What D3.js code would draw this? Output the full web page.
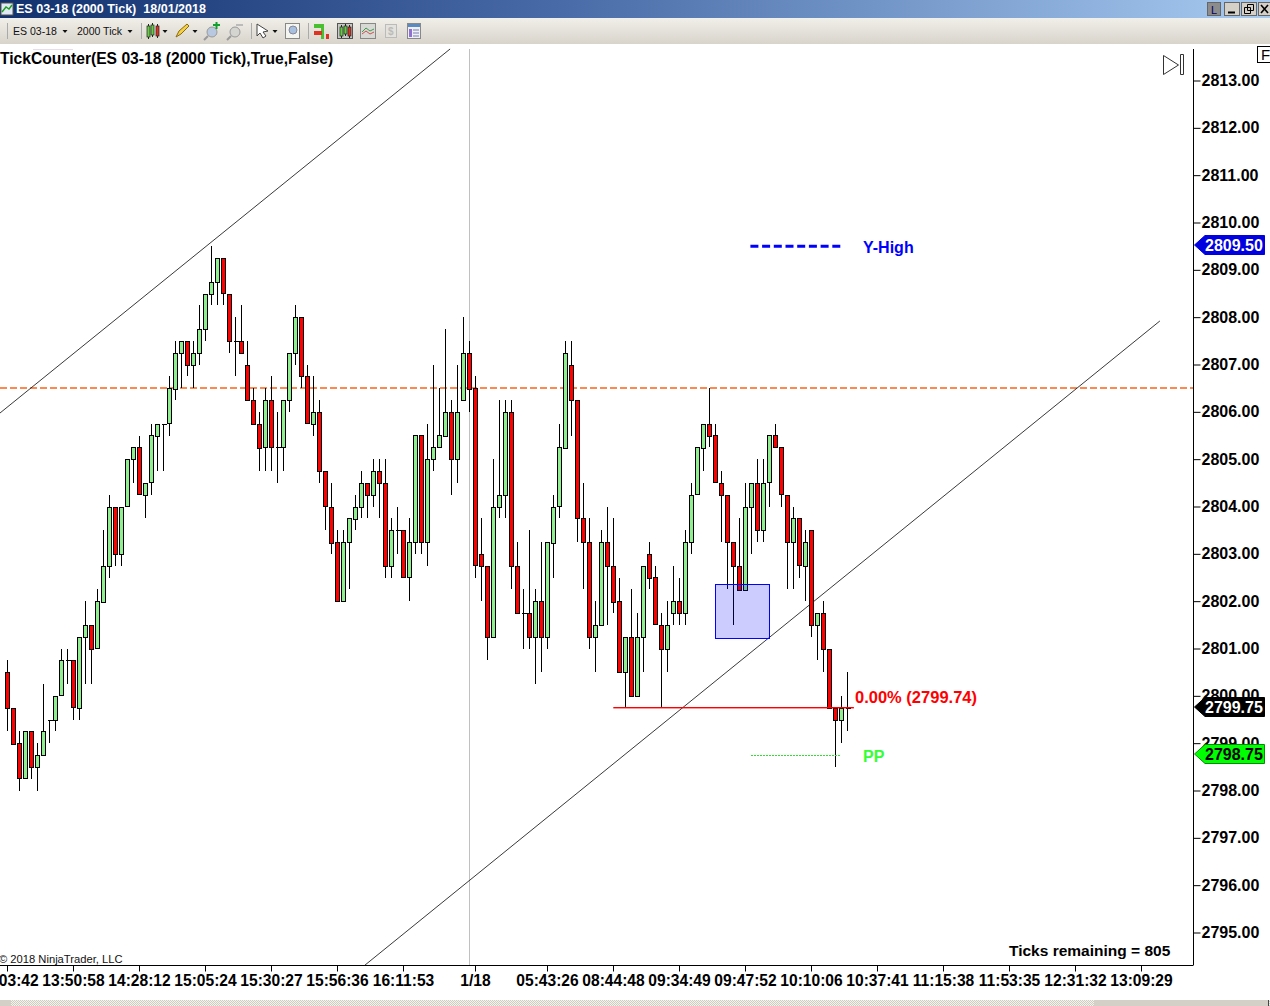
<!DOCTYPE html>
<html>
<head>
<meta charset="utf-8">
<script src="https://cdn.jsdelivr.net/npm/d3@7/dist/d3.min.js"></script>
<style>
html,body{margin:0;padding:0;background:#fff;overflow:hidden}
svg{display:block}
text{font-family:"Liberation Sans",Arial,sans-serif}
</style>
</head>
<body>
<svg id="c" width="1270" height="1006"></svg>
<script>
const opens=[2800.5,2799.75,2799,2798.25,2799.25,2798.5,2798.75,2799.5,2799.5,2800,
2800.75,2800.75,2799.75,2801.25,2801.5,2801,2802,2802.75,2804,2803,
2804,2805,2805.25,2804.25,2804.5,2805.5,2805.75,2805.75,2806.5,2807.25,
2807.5,2807,2807.25,2807.75,2808.5,2808.75,2809.25,2808.5,2807.5,2807.5,
2807,2806.25,2805.75,2805.25,2806.25,2805.25,2805.25,2806.25,2807.25,2808,
2806.75,2805.75,2806,2804.75,2804,2803.25,2802,2803.25,2803.75,2804,
2804.5,2804.25,2804.75,2804.5,2802.75,2803.5,2803.5,2802.5,2803.25,2805.5,
2803.25,2805,2805.25,2805.5,2806,2805,2806.25,2807.25,2806.5,2803,
2802.75,2801.25,2804,2804.25,2806,2802.75,2801.75,2801.75,2801.25,2802,
2801.25,2803.25,2804,2805.25,2807,2806.25,2803.75,2803.25,2801.25,2801.5,
2803.25,2802.75,2802,2800.5,2801.25,2800,2801.25,2803,2802.5,2801.5,
2801,2801.75,2802,2801.75,2803.25,2804.25,2805.25,2805.75,2805.5,2804.5,
2804.25,2803.25,2802.75,2802.25,2804,2804.5,2803.5,2804.5,2805.5,2805.25,
2804.25,2803.25,2803.75,2802.75,2803.5,2801.5,2801.75,2801,2799.75,2799.5,2799.75];
const closes=[2799.75,2799,2798.25,2799.25,2798.5,2798.75,2799.25,2799.5,2800,2800.75,
2800.75,2799.75,2801.25,2801.5,2801,2802,2802.75,2804,2803,2804,
2805,2805.25,2804.25,2804.5,2805.5,2805.75,2805.75,2806.5,2807.25,2807.5,
2807,2807.25,2807.75,2808.5,2808.75,2809.25,2808.5,2807.5,2807.5,2807.25,
2806.25,2805.75,2805.25,2806.25,2805.25,2805.25,2806.25,2807.25,2808,2806.75,
2805.75,2806,2804.75,2804,2803.25,2802,2803.25,2803.75,2804,2804.5,
2804.25,2804.75,2804.5,2802.75,2803.5,2803.5,2802.5,2803.25,2805.5,2803.25,
2805,2805.25,2805.5,2806,2805,2806,2807.25,2806.5,2802.75,2802.75,
2801.25,2804,2804.25,2806,2802.75,2801.75,2801.75,2801.25,2802,2801.25,
2803.25,2804,2805.25,2807.25,2806.25,2803.75,2803.25,2801.25,2801.5,2803.25,
2802.75,2802,2800.5,2801.25,2800,2801.25,2802.75,2802.5,2801.5,2801,
2801.5,2802,2801.75,2803.25,2804.25,2805.25,2805.75,2805.5,2804.5,2804.25,
2803.25,2802.75,2802.25,2804,2804.5,2803.5,2804.5,2805.5,2805.25,2804.25,
2803.25,2803.75,2802.75,2803.25,2801.5,2801.75,2801,2799.75,2799.5,2799.75,2799.75];
const highs=[2800.75,2799.75,2799.25,2799.25,2799.25,2799,2800.25,2799.5,2800,2801,
2801,2800.75,2801.25,2802,2801.5,2802.25,2803.5,2804.25,2804,2804,
2805,2805.25,2805.5,2804.5,2805.75,2805.75,2805.75,2806.75,2807.5,2807.5,
2807.5,2807.5,2808.25,2808.5,2809.5,2809.25,2809.25,2808.5,2808,2808.25,
2807.5,2806.5,2806,2806.5,2806.75,2806,2806.25,2807.25,2808.25,2808,
2807,2806.75,2806.25,2804.75,2804.5,2803.5,2803.5,2803.75,2804.25,2804.75,
2804.5,2805,2805,2805,2803.75,2804,2803.5,2803.75,2805.5,2805.5,
2805.75,2807,2806.5,2807.75,2806.25,2807,2808,2807.5,2806.75,2803.75,
2802.75,2805,2806.25,2806.25,2806.25,2803.25,2802.25,2803.5,2802.25,2803.25,
2803.25,2804.25,2805.75,2807.5,2807.5,2806.25,2804.5,2803.75,2802,2803.5,
2804,2803.75,2802.5,2801.25,2802.25,2801.75,2802.75,2803.25,2802.75,2801.75,
2802,2802.75,2802.5,2803.5,2804.5,2805.25,2805.75,2806.5,2805.75,2804.75,
2804.25,2803.25,2803.75,2804.5,2804.5,2805,2805,2805.5,2805.75,2805.25,
2804.25,2804,2803.75,2803.5,2803.5,2801.75,2802,2801,2799.75,2800,2800.5];
const lows=[2799.25,2799,2798,2798.25,2798.25,2798,2798.75,2799,2799.25,2800,
2800.25,2799.5,2799.5,2800.25,2800.25,2801,2802,2802.5,2802.75,2802.75,
2804,2804.5,2804.25,2803.75,2804.25,2804.75,2804.75,2805.5,2806.25,2806.5,
2806.75,2806.5,2807,2807.5,2808.25,2808.25,2808.25,2807.25,2806.75,2807.25,
2806.25,2805.75,2804.75,2804.75,2804.75,2804.5,2804.75,2806,2807,2806.5,
2805.75,2805.5,2804.5,2803.5,2803,2802,2802,2802.25,2803.5,2803.75,
2803.75,2804,2803.75,2802.5,2802.5,2803,2802.5,2802,2803,2803,
2802.75,2804.75,2805.25,2805.5,2804.25,2804.5,2806.25,2806,2802.5,2802,
2800.75,2801.25,2803.75,2803.75,2802.25,2801.75,2801,2801,2800.25,2800.5,
2801,2802.5,2803.75,2805.25,2805.5,2803.25,2802.25,2801,2800.5,2801.5,
2801.5,2801.75,2800.5,2799.75,2800,2800,2800.5,2802.25,2801.5,2799.75,
2800.5,2801.5,2801.5,2801.5,2803,2804.25,2804.75,2805.25,2804.5,2803.25,
2802.25,2801.5,2802.25,2802.25,2803,2803.25,2803.25,2804,2805.25,2804,
2802.25,2802.25,2802.5,2802,2801.25,2800.75,2800.5,2799.75,2798.5,2799,2799.25];
const priceTicks=[2795,2796,2797,2798,2799,2800,2801,2802,2803,2804,2805,2806,2807,2808,2809,2810,2811,2812,2813];
const timeTickBars=[0,11,22,33,44,55,66,78,90,101,112,123,134,145,156,167,178,189];
const timeTickLabels=["13:03:42","13:50:58","14:28:12","15:05:24","15:30:27","15:56:36","16:11:53","1/18","05:43:26","08:44:48","09:34:49","09:47:52","10:10:06","10:37:41","11:15:38","11:53:35","12:31:32","13:09:29"];
const trendUpper=[[-1.22,2805.975],[73.8,2813.666]];
const trendLower=[[59.6,2794.31],[192.1,2807.92]];
const sessionBar=77;
const orangeLevel=2806.5;
const boxBars=[118,127], boxPrices=[2802.355,2801.215];
const redLine={bars:[101,141.1],price:2799.74};
const yHigh={bars:[123.85,138.9],price:2809.5};
const pp={bars:[124,139],price:2798.75};
const markers=[{p:2809.5,fill:"#0000e0",text:"#fff",label:"2809.50"},{p:2799.75,fill:"#000",text:"#fff",label:"2799.75"},{p:2798.75,fill:"#00ff00",text:"#000",label:"2798.75"}];

const svg=d3.select("#c");
const x=d3.scaleLinear().domain([0,1]).range([7.3,13.3]);
const y=d3.scaleLinear().domain([2795,2813]).range([932.5,80.5]);
const snap=v=>Math.round(v)+.5;
const defs=svg.append("defs");
const g1=defs.append("linearGradient").attr("id","tb");
g1.append("stop").attr("offset",0).attr("stop-color","#10306e");
g1.append("stop").attr("offset",.45).attr("stop-color","#4a6ca8");
g1.append("stop").attr("offset",1).attr("stop-color","#a6caf0");
const g2=defs.append("linearGradient").attr("id","bar").attr("x2",0).attr("y2",1);
g2.append("stop").attr("offset",0).attr("stop-color","#f1efe9");
g2.append("stop").attr("offset",1).attr("stop-color","#d8d4cc");
const pat=defs.append("pattern").attr("id","chk").attr("width",2).attr("height",2).attr("patternUnits","userSpaceOnUse");
pat.append("rect").attr("width",2).attr("height",2).attr("fill","#f4f3ee");
pat.append("rect").attr("width",1).attr("height",1).attr("fill","#cfccc2");
pat.append("rect").attr("x",1).attr("y",1).attr("width",1).attr("height",1).attr("fill","#cfccc2");

// chart
const plot=svg.append("g");
plot.append("line").attr("x1",snap(x(sessionBar))).attr("x2",snap(x(sessionBar))).attr("y1",49).attr("y2",965).attr("stroke","#c0c0c0");
plot.append("line").attr("x1",0).attr("x2",1193).attr("y1",snap(y(orangeLevel))-.5).attr("y2",snap(y(orangeLevel))-.5).attr("stroke","#ff8850").attr("stroke-width",2).attr("stroke-dasharray","7 3");
const ln=d3.line().x(d=>x(d[0])).y(d=>y(d[1]));
[trendUpper,trendLower].forEach(t=>plot.append("path").attr("d",ln(t)).attr("fill","none").attr("stroke","#222").attr("stroke-width",.9));

const bars=opens.map((o,i)=>({i,o,c:closes[i],h:highs[i],l:lows[i]}));
const cg=plot.selectAll("g.cd").data(bars).join("g").attr("class","cd").attr("shape-rendering","crispEdges");
cg.append("line").attr("x1",d=>snap(x(d.i))).attr("x2",d=>snap(x(d.i))).attr("y1",d=>y(d.h)).attr("y2",d=>y(d.l)).attr("stroke","#000");
cg.filter(d=>d.o!==d.c).append("rect").attr("x",d=>snap(x(d.i))-2).attr("width",4)
  .attr("y",d=>snap(y(Math.max(d.o,d.c)))).attr("height",d=>Math.round(y(Math.min(d.o,d.c))-y(Math.max(d.o,d.c))))
  .attr("fill",d=>d.c>d.o?"#90ee90":"#ff0000").attr("stroke","#000");
cg.filter(d=>d.o===d.c).append("line").attr("x1",d=>snap(x(d.i))-2).attr("x2",d=>snap(x(d.i))+3).attr("y1",d=>snap(y(d.o))).attr("y2",d=>snap(y(d.o))).attr("stroke","#000");

plot.append("rect").attr("x",snap(x(boxBars[0]))).attr("width",x(boxBars[1])-x(boxBars[0])).attr("y",snap(y(boxPrices[0]))).attr("height",y(boxPrices[1])-y(boxPrices[0]))
  .attr("fill","rgba(0,0,255,.2)").attr("stroke","#0000ff").attr("shape-rendering","crispEdges");
plot.append("rect").attr("x",x(redLine.bars[0])).attr("width",x(redLine.bars[1])-x(redLine.bars[0])).attr("y",Math.round(y(redLine.price))-1).attr("height",1.4).attr("fill","#ff0000");
plot.append("line").attr("x1",x(yHigh.bars[0])).attr("x2",x(yHigh.bars[1])).attr("y1",y(yHigh.price)).attr("y2",y(yHigh.price)).attr("stroke","#0000ff").attr("stroke-width",3).attr("stroke-dasharray","8 3.7");
plot.append("line").attr("x1",x(pp.bars[0])).attr("x2",x(pp.bars[1])).attr("y1",snap(y(pp.price))).attr("y2",snap(y(pp.price))).attr("stroke","#33dd33").attr("stroke-dasharray","2 1").attr("shape-rendering","crispEdges");

const bold=(s,tx,ty,col,size)=>svg.append("text").attr("x",tx).attr("y",ty).attr("fill",col).attr("font-weight","bold").attr("font-size",size||16).text(s);
bold("0.00% (2799.74)",855,703,"#ff0000",16.5);
bold("Y-High",863,253,"#0000ff",16);
bold("PP",863,762,"#33ff33",16);
bold("TickCounter(ES 03-18 (2000 Tick),True,False)",0,64,"#000",15.65);
bold("Ticks remaining = 805",1009,956,"#000",15.5);
svg.append("text").attr("x",-1).attr("y",963).attr("font-size",11.2).attr("fill","#111").text("© 2018 NinjaTrader, LLC");

// axes
const ax=svg.append("g").attr("transform","translate(1193.5,0)").call(d3.axisRight(y).tickValues(priceTicks).tickFormat(d3.format(".2f")).tickSize(7).tickPadding(1));
ax.select(".domain").attr("d","M0,49V965").attr("stroke","#000");
ax.selectAll("text").attr("font-size",16).attr("font-weight","bold").attr("font-family","Liberation Sans").attr("fill","#000");
const axb=svg.append("g").attr("transform","translate(0,965.5)").call(d3.axisBottom(x).tickValues(timeTickBars).tickFormat((d,i)=>timeTickLabels[i]).tickSize(6).tickPadding(3));
axb.select(".domain").attr("d","M0,0H1193.5").attr("stroke","#000");
axb.selectAll(".tick").attr("transform",d=>`translate(${snap(x(d))},0)`);
axb.selectAll("text").attr("font-size",15.6).attr("font-weight","bold").attr("font-family","Liberation Sans").attr("fill","#000");

// price markers
const mk=svg.append("g").selectAll("g").data(markers).join("g").attr("transform",d=>`translate(0,${Math.round(y(d.p)-.7)})`);
mk.append("path").attr("d","M1194.5,0L1205,-9.5H1264.5V9.5H1205Z").attr("fill",d=>d.fill).attr("stroke",d=>d.fill==="#00ff00"?"#0a8a0a":d.fill);
mk.append("text").attr("x",1205).attr("y",5.5).attr("font-size",16).attr("font-weight","bold").attr("fill",d=>d.text).text(d=>d.label);

// end-of-chart icon and F tab
svg.append("path").attr("d","M1163.5,55.5V74.5L1178.5,65ZM1180.5,54.5H1183.5V74.5H1180.5Z").attr("fill","#fff").attr("stroke","#333");
svg.append("rect").attr("x",1257.5).attr("y",46.5).attr("width",14).attr("height",16).attr("fill","#fff").attr("stroke","#000");
svg.append("text").attr("x",1261).attr("y",60).attr("font-size",15).attr("fill","#000").text("F");

// window chrome
svg.append("rect").attr("width",1270).attr("height",18).attr("fill","url(#tb)");
svg.append("rect").attr("y",18).attr("width",1270).attr("height",26).attr("fill","url(#bar)");
svg.append("line").attr("x1",33).attr("x2",73).attr("y1",49.5).attr("y2",49.5).attr("stroke","#e6dcea");
svg.append("text").attr("x",16).attr("y",13).attr("font-size",12).attr("font-weight","bold").attr("fill","#fff").attr("font-family","DejaVu Sans").attr("textLength",190).attr("lengthAdjust","spacingAndGlyphs").text("ES 03-18 (2000 Tick)  18/01/2018").style("white-space","pre");
const ic=svg.append("g");
ic.append("rect").attr("x",1).attr("y",3).attr("width",12).attr("height",12).attr("fill","#dfe8f4").attr("stroke","#555");
ic.append("path").attr("d","M2,12L6,7L9,9L12,5").attr("fill","none").attr("stroke","#18a018").attr("stroke-width",1.4);
// window buttons
[[1207,"#8c8c8c",13],[1224,"#d4d0c8",15],[1241,"#d4d0c8",15],[1258,"#d4d0c8",13]].forEach(b=>{
  ic.append("rect").attr("x",b[0]+.5).attr("y",2.5).attr("width",b[2]).attr("height",13).attr("fill",b[1]).attr("stroke","#666");
});
ic.append("text").attr("x",1214).attr("y",14).attr("text-anchor","middle").attr("font-size",11).attr("fill","#000060").text("L");
ic.append("path").attr("d","M1228,12.5H1235").attr("stroke","#000").attr("stroke-width",2);
ic.append("path").attr("d","M1247.5,4.5H1253.5V10.5H1247.5ZM1244.5,7.5H1250.5V13.5H1244.5Z").attr("fill","#d4d0c8").attr("stroke","#000");
ic.append("path").attr("d","M1261,5L1268,13M1268,5L1261,13").attr("stroke","#000").attr("stroke-width",1.6);
// toolbar text
[["ES 03-18",13,44],["2000 Tick",77,45]].forEach(t=>ic.append("text").attr("x",t[1]).attr("y",35).attr("font-size",11.4).attr("fill","#111").attr("font-family","Noto Sans").attr("textLength",t[2]).attr("lengthAdjust","spacingAndGlyphs").text(t[0]));
[65,130,165,195,275].forEach(a=>ic.append("path").attr("d",`M${a-2.5},30H${a+2.5}L${a},33Z`).attr("fill","#111"));
[7,141,251,308].forEach(a=>ic.append("line").attr("x1",a+.5).attr("x2",a+.5).attr("y1",23).attr("y2",39).attr("stroke","#aaa"));
const mini=(a,ty,h,f)=>{ic.append("line").attr("x1",a+1.5).attr("x2",a+1.5).attr("y1",ty-2).attr("y2",ty+h+2).attr("stroke","#222");ic.append("rect").attr("x",a).attr("y",ty).attr("width",3).attr("height",h).attr("fill",f).attr("stroke","#222").attr("stroke-width",.7);};
mini(147,26,11,"#66cc44");mini(151,25,10,"#66cc44");mini(156,26,10,"#dd3322");
ic.append("path").attr("d","M176,37L179,31L187,24L189,26L181,34Z").attr("fill","#f5d040").attr("stroke","#8a6a10");
const lens=(a,col,plus)=>{ic.append("circle").attr("cx",a+8).attr("cy",32).attr("r",5).attr("fill",col).attr("stroke","#999");ic.append("line").attr("x1",a+4).attr("x2",a).attr("y1",36).attr("y2",40).attr("stroke","#999").attr("stroke-width",2);
 ic.append("path").attr("d",plus).attr("stroke",plus.includes("V")?"#10a030":"#bbb").attr("stroke-width",2).attr("fill","none");};
lens(204,"#b8c8e0","M213,25H220M216.5,22V29");
lens(227,"#d4d4d0","M236,25H243");
ic.append("path").attr("d","M257,24V36L260,33L263,38L266,36L263,32L268,31Z").attr("fill","#fff").attr("stroke","#444");
ic.append("rect").attr("x",285.5).attr("y",23.5).attr("width",14).attr("height",15).attr("fill","#f4f4f0").attr("stroke","#888");
ic.append("circle").attr("cx",293).attr("cy",30).attr("r",4).attr("fill","#a8c0e0").attr("stroke","#889");
ic.append("rect").attr("x",321).attr("y",24).attr("width",3).attr("height",15).attr("fill","#4ac030");
ic.append("rect").attr("x",326).attr("y",34).attr("width",3).attr("height",5).attr("fill","#dd3322");
ic.append("rect").attr("x",314).attr("y",24).attr("width",8).attr("height",4).attr("fill","#4ac030");
ic.append("rect").attr("x",314).attr("y",31).attr("width",8).attr("height",4).attr("fill","#dd3322");
ic.append("rect").attr("x",337.5).attr("y",23.5).attr("width",15).attr("height",15).attr("fill","#c8c8c4").attr("stroke","#555");
mini(340,27,9,"#66cc44");mini(344,26,8,"#66cc44");mini(348,27,9,"#dd3322");
ic.append("rect").attr("x",360.5).attr("y",23.5).attr("width",15).attr("height",15).attr("fill","#d8d8d4").attr("stroke","#888");
ic.append("path").attr("d","M362,32L366,28L370,31L374,29").attr("stroke","#3aa050").attr("fill","none");
ic.append("path").attr("d","M362,34L366,31L370,34L374,32").attr("stroke","#d05050").attr("fill","none");
ic.append("rect").attr("x",385.5).attr("y",24.5).attr("width",11).attr("height",13).attr("fill","#e4e2dc").attr("stroke","#bbb");
ic.append("text").attr("x",388).attr("y",35).attr("font-size",10).attr("font-weight","bold").attr("fill","#bbb").text("$");
ic.append("rect").attr("x",407.5).attr("y",23.5).attr("width",13).attr("height",15).attr("fill","#eef0f8").attr("stroke","#888");
ic.append("rect").attr("x",408).attr("y",24).attr("width",12).attr("height",3).attr("fill","#5a8ac0");
ic.append("rect").attr("x",409).attr("y",29).attr("width",3).attr("height",8).attr("fill","#9070d0");
ic.append("path").attr("d","M413,30H419M413,33H419M413,36H419").attr("stroke","#7a7ab0");

// scrollbar
svg.append("rect").attr("y",1000).attr("width",1270).attr("height",6).attr("fill","url(#chk)");
svg.append("rect").attr("y",1000).attr("width",11).attr("height",6).attr("fill","#d4d0c8");
svg.append("rect").attr("x",1094).attr("y",1000).attr("width",174).attr("height",6).attr("fill","#d4d0c8");
svg.append("line").attr("x1",1268.5).attr("x2",1268.5).attr("y1",1000).attr("y2",1006).attr("stroke","#444");
</script>
</body>
</html>
